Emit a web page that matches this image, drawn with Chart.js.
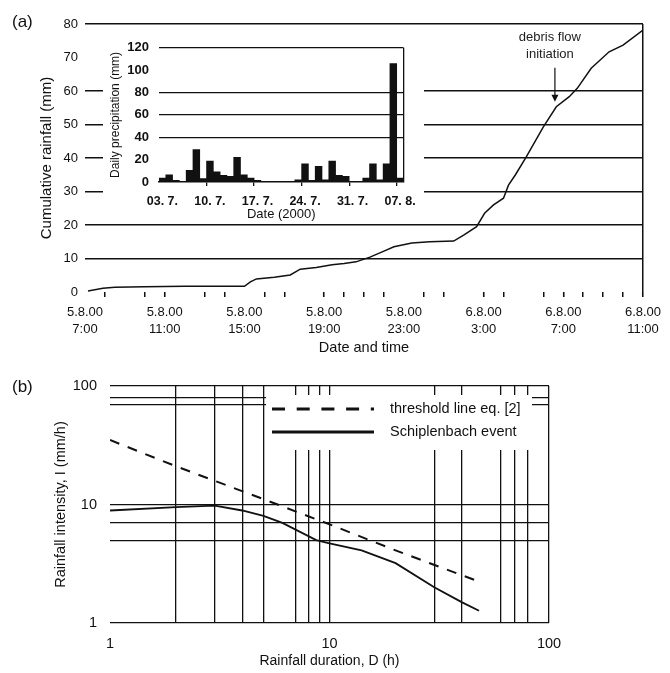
<!DOCTYPE html>
<html>
<head>
<meta charset="utf-8">
<script src="https://cdn.jsdelivr.net/npm/chart.js@4.4.0/dist/chart.umd.min.js"></script>
<style>
  body { margin: 0; background: #fff; }
  #wrap { position: relative; width: 670px; height: 673px; font-family: "Liberation Sans", Arial, sans-serif; }
  canvas { position: absolute; }
  #cumChart { left: 0; top: 0; }
  #dailyChart { left: 103px; top: 30px; background: #fff; }
  #idfChart { left: 0; top: 360px; }
  .panel { position: absolute; left: 12px; font-size: 17px; line-height: 20px; color: #111; }
</style>
</head>
<body>
<div id="wrap">
  <canvas id="cumChart" width="670" height="360"></canvas>
  <canvas id="dailyChart" width="321" height="192"></canvas>
  <canvas id="idfChart" width="670" height="313"></canvas>
  <div class="panel" style="top:12px;">(a)</div>
  <div class="panel" style="top:377px;">(b)</div>
</div>
<script>
// (a) cumulative rainfall, x = hours after 5.8.00 7:00
const cumHours = [0.15, 0.9, 1.5, 3.0, 5.0, 8.0, 8.3, 8.6, 9.5, 10.3, 10.8, 11.6, 12.4, 13.0, 13.6, 14.3, 15.0, 15.5, 16.4, 17.3, 18.5, 19.0, 19.65, 20.05, 20.5, 21.0, 21.25, 21.6, 22.15, 23.0, 23.65, 24.3, 24.7, 25.4, 26.3, 27.0, 28.0];
const cumRain = [0.3, 1.1, 1.4, 1.6, 1.7, 1.7, 3.0, 3.9, 4.4, 5.1, 6.8, 7.3, 8.1, 8.5, 9.0, 10.4, 12.2, 13.5, 14.6, 15.0, 15.2, 17.0, 19.5, 23.5, 26.0, 28.0, 31.9, 35.0, 40.4, 49.3, 55.3, 58.3, 60.8, 66.8, 71.7, 73.7, 78.2];
const timeTickHours = [0, 4, 8, 12, 16, 20, 24, 28];
const timeTickDates = ['5.8.00', '5.8.00', '5.8.00', '5.8.00', '5.8.00', '6.8.00', '6.8.00', '6.8.00'];
const timeTickTimes = ['7:00', '11:00', '15:00', '19:00', '23:00', '3:00', '7:00', '11:00'];
const majorTickHours = [4, 12, 20, 24, 28];
const minorTickHours = [1, 3, 6, 7, 9, 10, 13, 14, 15, 17, 18, 21, 23, 25, 26, 27];
const debrisFlow = { hour: 23.58, rain: 56.8, text: ['debris flow', 'initiation'] };

// inset: daily precipitation
const days = ['03. 7.', '04. 7.', '05. 7.', '06. 7.', '07. 7.', '08. 7.', '09. 7.', '10. 7.', '11. 7.', '12. 7.',
  '13. 7.', '14. 7.', '15. 7.', '16. 7.', '17. 7.', '18. 7.', '19. 7.', '20. 7.', '21. 7.', '22. 7.',
  '23. 7.', '24. 7.', '25. 7.', '26. 7.', '27. 7.', '28. 7.', '29. 7.', '30. 7.', '31. 7.', '01. 8.',
  '02. 8.', '03. 8.', '04. 8.', '05. 8.', '06. 8.', '07. 8.'];
const dailyRain = [3.5, 6.5, 1.5, 0, 10.4, 29, 3, 18.7, 9, 6, 5, 22, 6.5, 3.5, 1.5, 0, 0, 0, 0, 0,
  2, 16.3, 1.5, 14, 2, 18.7, 6, 5, 0, 0, 3.5, 16.3, 2, 16.3, 106, 3.5];
const dailyGridValues = [40, 60, 80, 120];

// (b) intensity-duration
const thresholdD = [1, 2, 5, 10, 20, 46];
const thresholdI = [35, 21, 11.1, 6.8, 4.1, 2.3];
const eventD = [1, 2, 3, 4, 5, 6.1, 8.7, 10, 14, 20, 30, 40, 48];
const eventI = [8.9, 9.5, 9.8, 8.9, 8.0, 7.0, 5.0, 4.7, 4.1, 3.2, 2.0, 1.5, 1.27];
const durationGrid = [1, 2, 3, 4, 5, 7, 8, 9, 10, 30, 40, 60, 70, 80, 100];
const intensityGrid = [1, 5, 7, 10, 70, 80, 100];
const logLabels = [1, 10, 100];

const ink = '#111';
const fontFamily = '"Liberation Sans", Arial, Helvetica, sans-serif';
Chart.defaults.font.family = fontFamily;
Chart.defaults.color = ink;
Chart.defaults.animation = false;

const noPlugins = { legend: { display: false }, tooltip: { enabled: false } };

const debrisArrow = {
  id: 'debrisArrow',
  afterDatasetsDraw(chart) {
    const { ctx, scales: { x, y } } = chart;
    const px = x.getPixelForValue(debrisFlow.hour);
    const py = y.getPixelForValue(debrisFlow.rain);
    ctx.save();
    ctx.strokeStyle = ink;
    ctx.fillStyle = ink;
    ctx.lineWidth = 1.2;
    ctx.beginPath();
    ctx.moveTo(px, py - 34);
    ctx.lineTo(px, py - 6);
    ctx.stroke();
    ctx.beginPath();
    ctx.moveTo(px - 3.5, py - 7);
    ctx.lineTo(px + 3.5, py - 7);
    ctx.lineTo(px, py);
    ctx.closePath();
    ctx.fill();
    ctx.font = '13px ' + fontFamily;
    ctx.textAlign = 'center';
    ctx.textBaseline = 'middle';
    ctx.fillStyle = '#222';
    debrisFlow.text.forEach((t, i) => ctx.fillText(t, px - 5, py - 64 + i * 17));
    ctx.restore();
  }
};

new Chart(document.getElementById('cumChart'), {
  type: 'line',
  data: {
    datasets: [{
      data: cumHours.map((h, i) => ({ x: h, y: cumRain[i] })),
      borderColor: ink,
      borderWidth: 1.5,
      pointRadius: 0,
      tension: 0
    }]
  },
  options: {
    responsive: false,
    animation: false,
    layout: { padding: { left: 38, right: 27, top: 24, bottom: 3 } },
    plugins: noPlugins,
    scales: {
      x: {
        type: 'linear',
        min: 0,
        max: 28,
        afterBuildTicks: s => {
          const all = [...new Set([...timeTickHours, ...majorTickHours, ...minorTickHours])].sort((a, b) => a - b);
          s.ticks = all.map(v => ({ value: v }));
        },
        afterFit: s => { s.height = 65; },
        ticks: {
          autoSkip: false,
          maxRotation: 0,
          padding: 7,
          font: { size: 13, lineHeight: 1.3 },
          callback: v => {
            const i = timeTickHours.indexOf(v);
            return i < 0 ? '' : [timeTickDates[i], timeTickTimes[i]];
          }
        },
        grid: {
          color: ctx => ctx.tick && ctx.tick.value === 28 ? ink : 'transparent',
          tickColor: ctx => ctx.tick && (majorTickHours.includes(ctx.tick.value) || minorTickHours.includes(ctx.tick.value)) ? ink : 'transparent',
          tickWidth: ctx => ctx.tick && majorTickHours.includes(ctx.tick.value) ? 1.6 : 1.5,
          tickLength: 5,
          lineWidth: 1.5
        },
        border: { display: false },
        title: { display: true, text: 'Date and time', font: { size: 14.5 }, padding: 0 }
      },
      y: {
        min: 0,
        max: 80,
        afterFit: s => { s.width = 47; },
        ticks: { stepSize: 10, padding: 7, font: { size: 13 } },
        grid: {
          color: ctx => ctx.tick && (ctx.tick.value === 0 || ctx.tick.value === 70) ? 'transparent' : ink,
          lineWidth: 1.5,
          drawTicks: false
        },
        border: { display: false },
        title: { display: true, text: 'Cumulative rainfall (mm)', font: { size: 15 }, padding: 0 }
      }
    }
  },
  plugins: [debrisArrow]
});

new Chart(document.getElementById('dailyChart'), {
  type: 'bar',
  data: {
    labels: days,
    datasets: [{
      data: dailyRain,
      backgroundColor: ink,
      borderWidth: 0,
      barPercentage: 1,
      categoryPercentage: 1
    }]
  },
  options: {
    responsive: false,
    animation: false,
    layout: { padding: { left: 5, right: 19, top: 17, bottom: 0 } },
    plugins: noPlugins,
    scales: {
      x: {
        afterFit: s => { s.height = 40; },
        ticks: {
          autoSkip: false,
          maxRotation: 0,
          padding: 8,
          font: { size: 12.5, weight: 'bold' },
          callback: (v, i) => i % 7 === 0 ? days[i] : ''
        },
        grid: {
          offset: true,
          color: ctx => ctx.index === undefined ? ink : 'transparent',
          tickColor: ctx => ctx.index !== undefined && ctx.index > 0 && ctx.index % 7 === 0 ? ink : 'transparent',
          tickLength: 4,
          lineWidth: 1.3
        },
        border: { display: true, color: ink, width: 1.5 },
        title: { display: true, text: 'Date (2000)', font: { size: 13 }, padding: 0 }
      },
      y: {
        min: 0,
        max: 120,
        afterFit: s => { s.width = 51; },
        ticks: { stepSize: 20, padding: 10, font: { size: 13, weight: 'bold' } },
        grid: {
          color: ctx => ctx.tick && dailyGridValues.includes(ctx.tick.value) ? ink : 'transparent',
          lineWidth: 1.3,
          drawTicks: false
        },
        border: { display: false },
        title: { display: true, text: 'Daily precipitation (mm)', font: { size: 12 }, padding: 0 }
      }
    }
  }
});

const legendBox = {
  id: 'legendBox',
  afterDatasetsDraw(chart) {
    const { ctx, chartArea: a } = chart;
    const x0 = a.left + 156, y0 = a.top + 9;
    ctx.save();
    ctx.fillStyle = '#fff';
    ctx.fillRect(x0, y0, 266, 55);
    ctx.font = '14.5px ' + fontFamily;
    ctx.textBaseline = 'middle';
    chart.data.datasets.forEach((ds, i) => {
      const y = y0 + 14 + i * 23;
      ctx.beginPath();
      ctx.setLineDash((ds.borderDash || []).map(v => v * 1.3));
      ctx.lineWidth = ds.borderWidth + 1;
      ctx.strokeStyle = ds.borderColor;
      ctx.moveTo(x0 + 6, y);
      ctx.lineTo(x0 + 108, y);
      ctx.stroke();
      ctx.setLineDash([]);
      ctx.fillStyle = ink;
      ctx.fillText(ds.label, x0 + 124, y);
    });
    ctx.restore();
  }
};

new Chart(document.getElementById('idfChart'), {
  type: 'line',
  data: {
    datasets: [
      {
        label: 'threshold line eq. [2]',
        data: thresholdD.map((d, i) => ({ x: d, y: thresholdI[i] })),
        borderColor: ink,
        borderWidth: 2,
        borderDash: [10, 9],
        pointRadius: 0
      },
      {
        label: 'Schiplenbach event',
        data: eventD.map((d, i) => ({ x: d, y: eventI[i] })),
        borderColor: ink,
        borderWidth: 1.8,
        pointRadius: 0
      }
    ]
  },
  options: {
    responsive: false,
    animation: false,
    layout: { padding: { left: 52, right: 121, top: 26, bottom: 3 } },
    plugins: noPlugins,
    scales: {
      x: {
        type: 'logarithmic',
        min: 1,
        max: 100,
        afterBuildTicks: s => { s.ticks = durationGrid.map(v => ({ value: v })); },
        afterFit: s => { s.height = 47; },
        ticks: {
          autoSkip: false,
          maxRotation: 0,
          padding: 12,
          font: { size: 14.5 },
          callback: v => logLabels.includes(v) ? String(v) : ''
        },
        grid: {
          color: ctx => ctx.tick && ctx.tick.value === 1 ? 'transparent' : ink,
          lineWidth: 1.3,
          drawTicks: false
        },
        border: { display: false },
        title: { display: true, text: 'Rainfall duration, D (h)', font: { size: 14 }, padding: 0 }
      },
      y: {
        type: 'logarithmic',
        min: 1,
        max: 100,
        afterBuildTicks: s => { s.ticks = intensityGrid.map(v => ({ value: v })); },
        afterFit: s => { s.width = 58; },
        ticks: {
          autoSkip: false,
          padding: 13,
          font: { size: 14.5 },
          callback: v => logLabels.includes(v) ? String(v) : ''
        },
        grid: { color: ink, lineWidth: 1.3, drawTicks: false },
        border: { display: false },
        title: { display: true, text: 'Rainfall intensity, I (mm/h)', font: { size: 14.5 }, padding: 0 }
      }
    }
  },
  plugins: [legendBox]
});
</script>
</body>
</html>
